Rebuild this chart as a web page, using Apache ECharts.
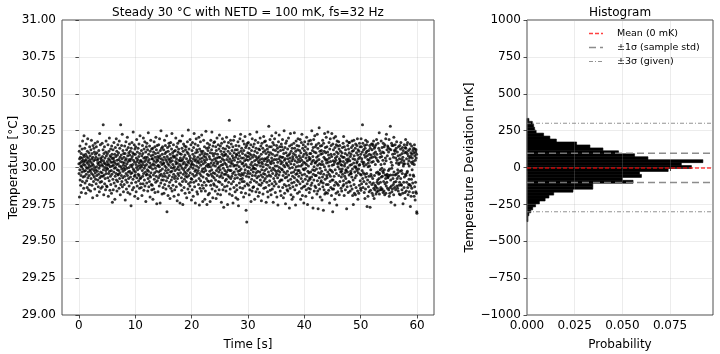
<!DOCTYPE html>
<html>
<head>
<meta charset="utf-8">
<script src="https://cdn.jsdelivr.net/npm/echarts@6/dist/echarts.min.js"></script>
<style>
  html, body { margin: 0; padding: 0; background: #fff; }
  #chart { width: 720px; height: 354px; }
</style>
</head>
<body>
<div id="chart"></div>
<script>
// sample rate [Hz] and nominal temperature [°C]
const FS = 32
const T0 = 30

// temperature deviation in mK, one row per second (32 samples)
const devRows = [
  [25, -40, 110, -200, 60, -15, 145, -85, 30, 70, -120, 10, -55, 95, -170, 40, 5, -30, 125, 65, -95, 180, -10, 50, -65, 20, 85, -140, 35, 215, -25, 75],
  [-60, 130, 15, -105, 45, -20, 90, -175, 55, 160, -45, 0, -90, 75, 30, -135, 110, -5, 195, -70, 40, -30, 65, -150, 20, 100, -55, 5, -115, 140, 50, -15],
  [80, -25, -160, 35, 120, -75, 10, 185, -40, 60, -120, 95, -10, 25, -205, 70, 150, -50, 15, -95, 45, 130, -20, -65, 105, 0, -145, 55, 165, -35, 90, -80],
  [-15, 70, -110, 140, 5, -55, 100, -190, 50, -25, 175, 30, -85, 60, -130, 20, -45, 115, -5, 85, -165, 35, 230, -70, 10, -100, 155, -30, 65, -140, 40, -60],
  [55, -95, 20, -35, 165, -130, 75, 10, -60, 120, 290, -15, 45, -185, 95, -50, 30, 140, -110, 0, 65, -75, 25, -150, 105, -20, 180, -40, 80, -125, 15, -5],
  [-130, 40, 95, -10, -70, 155, 25, -195, 60, -40, 110, 15, -90, 200, -25, 50, -155, 80, 5, -60, 125, -115, 35, 70, -20, -175, 145, -45, 90, 10, -235, 60],
  [35, -80, 120, -150, 15, 65, -30, 170, -105, 45, -5, 90, -215, 30, -60, 135, 0, -125, 75, -40, 195, -85, 20, 110, -160, 50, -15, 85, -95, 155, -50, 25],
  [-45, 100, -20, 55, -140, 180, 10, -75, 130, -35, 70, -185, 40, 290, -115, 5, 85, -55, 150, -10, -95, 60, 225, -130, 35, -70, 115, -25, 15, -165, 95, -5],
  [70, -115, 30, -60, 145, -15, 95, -220, 50, 10, -85, 175, -40, 60, -145, 120, -5, 25, -100, 205, -55, 80, -170, 40, 135, -30, -75, 100, 0, -125, 55, 160],
  [-25, 85, -180, 45, 110, -65, 15, -40, -260, 130, 60, -105, 5, 170, -35, 75, -150, 20, 100, -80, 240, -10, 50, -135, 90, -20, 155, -60, 35, -195, 125, -50],
  [90, -30, 140, -100, 20, -165, 65, 0, 190, -70, 40, -125, 105, -15, 55, -210, 130, -45, 10, -90, 75, 160, -55, 30, -140, 95, -5, 215, -75, 45, -110, 15],
  [-70, 45, -135, 115, 5, 80, -190, 35, -20, 150, -60, 95, -110, 20, 200, -40, 65, -155, 125, -5, -85, 40, 175, -125, 10, 70, -30, 105, -230, 55, -50, 140],
  [20, -105, 165, -45, 70, -15, 120, -160, 40, -75, 235, -25, 90, -130, 5, 55, -95, 145, -55, 30, -200, 110, 0, -65, 185, -35, 80, -115, 15, 125, -150, 60],
  [-120, 60, -10, 130, -215, 85, 25, -50, 105, -145, 45, 175, -80, 15, -35, 140, -170, 70, -5, 95, -100, 205, 35, -60, 120, -25, -245, 55, 150, -90, 10, 75],
  [45, -165, 100, 15, -70, 155, -30, 65, -125, 5, 195, -55, 80, -240, 115, -20, 35, -105, 250, -45, 60, 130, -85, 20, -180, 90, -10, 140, -60, 50, -135, 25],
  [-85, 120, 30, -175, 70, -40, 185, -115, 10, 95, -60, 150, -20, 55, -145, 105, 0, -90, 215, 40, -300, 75, -35, 135, -70, 25, -190, 110, -15, 60, -125, 165],
  [15, -55, 145, -100, 50, -210, 90, 35, -30, 170, -140, 65, 0, -85, 125, -25, 230, -160, 45, -65, 100, 20, -120, 80, -5, 155, -45, 70, -195, 110, 5, -75],
  [-150, 75, -20, 115, -60, 40, 200, -95, 25, -130, 60, 140, -10, 85, -225, 30, -75, 165, -40, 105, 5, -185, 125, -55, 50, -15, 180, -110, 20, 95, -240, 45],
  [65, -35, 180, -120, 10, 90, -70, 45, -155, 130, -5, 215, -95, 55, -250, 25, 110, -45, 160, -15, 70, -135, 35, -80, 145, -30, 85, -175, 0, 120, -60, 20],
  [-95, 140, -40, 60, -205, 15, 105, -65, 175, -20, 40, -145, 95, 255, -110, 30, -55, 125, -10, -170, 80, 50, -125, 190, -35, 65, -100, 5, 155, -75, 20, -220],
  [40, -80, 115, -150, 25, 170, -45, 90, -5, -195, 60, 135, -100, 15, 230, -60, 75, -130, 45, -25, 160, -240, 100, -15, 55, -90, 195, -50, 10, 120, -165, 35],
  [-35, 105, -180, 70, 150, -20, 45, -115, 0, 205, -75, 30, -255, 125, -40, 85, -140, 60, 175, -90, 15, -55, 110, -160, 40, 220, -25, 95, -120, 65, -10, -230],
  [110, -65, 25, -140, 185, -30, 80, -100, 50, 140, -5, -215, 95, 35, -160, 70, -20, 245, -120, 10, -75, 130, 55, -250, 90, -45, 165, -90, 20, 115, -185, 5],
  [-55, 135, -95, 20, 75, -175, 155, -25, 60, -230, 100, 5, -120, 185, -45, 30, -90, 120, -15, 240, -145, 50, -60, 95, -205, 145, 15, -35, 80, -110, 170, -70],
  [30, -120, 60, 175, -40, 95, -160, 10, -85, 140, 45, -210, 115, -20, 65, -130, 200, -55, 25, 90, -180, 35, -5, 155, -95, 70, -30, 125, -150, 5, 220, -65],
  [-100, 70, -15, 145, -185, 40, 110, -55, 15, -235, 165, -35, 90, -115, 60, 195, -70, 20, -150, 130, -5, 80, -270, 50, 105, -45, 175, -130, 30, -20, 85, -90],
  [125, -45, 90, -160, 20, -80, 205, -30, 55, -125, 145, 5, -250, 75, -55, 110, -15, 170, -100, 40, -65, 135, 320, -180, 60, -20, 95, -145, 10, 185, -75, 30],
  [-20, 160, -110, 45, -60, 115, -190, 80, 25, -40, 140, -240, 65, -95, 185, 10, -135, 100, -30, 50, 210, -75, 15, -165, 120, -50, 70, -205, 150, -10, 90, -120],
  [85, -150, 15, 120, -70, 35, -215, 175, -25, 60, -260, 100, -45, 145, 5, -105, 80, -20, 195, -135, 40, -80, 225, -55, 110, -10, -170, 65, 130, -40, 25, -95],
  [-75, 95, -140, 30, 180, -50, 65, -200, 115, 10, -95, 160, -35, 45, -125, 210, -15, 85, -175, 135, 20, -290, 55, -60, 150, -370, 75, -110, 5, 165, -40, 100],
  [50, -25, 170, -120, 75, -65, 130, -185, 0, 95, -150, 225, -40, 60, -100, 20, 155, -230, 85, -15, 115, -80, 35, -160, 195, -55, 70, 10, -135, 140, -30, -5],
  [-130, 85, -5, 160, -90, 45, -215, 110, 20, -55, 185, -10, 75, -165, 130, -35, 55, -100, 240, -70, 15, 100, -145, 65, -25, 170, -195, 40, -60, 125, -115, 30],
  [75, -170, 120, -30, 55, 200, -85, 10, -120, 145, -50, 90, -225, 35, -15, 165, -105, 60, 25, -65, 130, -180, 5, 105, -40, 210, -140, 45, -90, 175, -20, 60],
  [-45, 115, -75, 180, -135, 20, 95, -235, 60, -10, 150, -100, 40, -60, 125, -165, 70, 15, -200, 105, -30, 50, 280, -120, 85, -50, 140, -90, 0, 190, -155, 35],
  [100, -60, 25, -185, 140, -20, 65, 215, -110, 45, -145, 90, -40, 170, -5, -235, 120, 30, -75, 155, -125, 55, -15, 195, -95, 80, 10, -170, 115, -55, 235, -25],
  [-110, 55, 150, -40, -200, 85, 10, 130, -70, 35, -255, 105, -20, 175, -130, 60, -50, 220, 0, -95, 140, -30, 75, -160, 45, 115, -85, 25, -190, 160, -10, 70],
  [140, -85, 35, -15, 190, -135, 70, -55, 120, -205, 15, 95, -30, 250, -115, 50, -175, 5, 135, -70, 60, -245, 165, -40, 100, -125, 30, 180, -65, 20, -150, 80],
  [-25, 125, -160, 60, -90, 10, 200, -50, 85, -120, 40, -275, 145, -5, 95, -140, 65, 230, -80, 25, -185, 110, -35, 155, -105, 45, -215, 130, 0, -60, 75, -130],
  [60, -200, 95, -30, 165, -100, 20, 235, -70, 130, -150, 45, -15, 85, -255, 110, -45, 180, 5, -120, 70, -85, 150, -40, 35, -175, 120, -20, 195, -95, 55, 10],
  [-60, 145, -20, 80, -165, 115, 40, -110, 190, -35, 65, -215, 100, 10, -75, 170, -140, 50, 225, -50, 20, -190, 130, -95, 75, -10, 155, -130, 35, -240, 90, -15],
  [115, -45, 175, -125, 30, -80, 140, -5, -195, 65, 100, -150, 20, 205, -60, 85, -110, 45, -250, 125, -25, 160, -90, 10, -140, 180, -35, 70, -170, 55, -70, 95],
  [-80, 60, -145, 185, -30, 95, -120, 25, 160, -65, 250, -105, 40, -205, 115, -15, 75, -275, 135, -45, 50, 190, -85, 5, -160, 105, -20, 215, -125, 30, -55, 140],
  [35, -135, 100, -55, 155, -10, 70, -180, 45, 225, -90, 15, -160, 130, -280, 80, -35, 165, -115, 55, 270, -70, 25, -145, 110, -5, -200, 145, -40, 90, -100, 20],
  [-90, 115, -25, 150, -220, 40, 95, -65, 185, -130, 20, -105, -290, 165, -45, 70, -150, 110, 5, 230, -180, 60, -80, 135, -15, 100, -170, 50, 205, -115, 30, -55],
  [140, -70, 55, -175, 105, -30, 240, -115, 35, 85, -155, 10, 170, -45, 65, -240, 125, -15, -95, 195, -60, 40, -135, 90, 150, -20, -190, 75, 230, -85, 15, -145],
  [-30, -300, 160, -85, 45, 120, -145, 20, 200, -60, 90, -120, 35, -215, 135, -15, 65, 210, -100, 50, -175, 155, -40, 105, -255, 75, 180, -110, 25, 145, -165, 5],
  [95, -120, 30, 175, -55, 125, -185, 60, -10, 150, -95, 45, 40, 110, -30, 20, -140, 80, -65, -25, -160, 15, 100, -10, 135, -45, 70, -125, 165, 40, -90, 210],
  [-115, 70, -190, 140, 10, -60, 25, -35, 95, -150, 120, -75, -15, -20, 55, -105, -280, 180, 35, -130, 85, -30, 150, 0, 45, -170, 60, 125, -95, 170, -50, 100],
  [170, -100, 45, 15, -160, 75, -40, -25, -125, 90, -40, 135, 20, -65, 180, -145, 110, -10, -190, 150, 60, -85, -250, 115, 30, 185, -115, 80, -175, 5, -30, 55],
  [-70, 130, -185, 160, 5, -135, -5, -55, 100, 30, 150, -20, 40, 195, -160, 85, -215, 120, -35, 60, -10, -175, 110, 15, -120, 165, 20, 70, 140, -90, -45, -140],
  [90, -155, 195, -50, 140, -110, 60, 40, -20, 105, 290, -75, 165, -135, 25, -35, 120, 35, -95, 10, -170, 85, 150, -45, -210, 130, 70, -145, 185, -65, 100, 20],
  [-110, 155, -40, 110, -265, 80, 175, -85, 55, -195, 5, 30, -130, 115, -60, 50, -165, 90, 10, 150, -100, -270, 130, 65, -155, -15, -45, 85, -60, 160, 35, -115],
  [120, -175, 70, 160, -75, 150, -190, 40, -105, 180, -140, 95, -210, 130, -55, 75, -150, 140, -120, 20, 105, -130, 155, -180, 65, -35, 190, -165, 90, -100, -140, 50],
  [-85, -30, 165, -160, 40, -110, 130, -45, -75, 235, -180, -40, 115, -150, 70, -15, -100, 95, -135, 20, 180, -65, -150, 75, -5, 135, -145, -60, 105, -25, 50, -170],
  [165, -35, -95, 100, -160, 140, -15, 25, -185, 155, -110, -50, 65, -75, 195, -175, 45, -125, 225, -55, -100, 120, -45, 80, -140, 145, -70, -65, 135, -20, 105, -150],
  [-55, 190, -195, -10, 125, -175, 60, -135, 280, -50, -85, 120, -235, 35, -125, 165, -5, -165, 150, 15, -145, 90, -50, -75, 150, -115, 70, -185, 205, -30, -100, 115],
  [-135, 95, -255, 155, -50, 115, -150, 65, -95, 130, -45, 30, 175, -125, 50, -75, 105, -140, -15, -35, 80, -160, 140, -60, 20, -120, 30, -180, 60, -100, 150, -25],
  [85, -185, 125, -75, 170, -115, 35, -120, -20, 55, -150, 95, -40, 135, -175, 70, -245, 115, 10, 25, -100, 45, -135, 155, -65, 25, 100, -170, -210, 135, -45, 190],
  [130, -55, 105, -160, 60, -100, 155, -35, 95, -25, 170, -135, 25, -185, 80, 115, -115, 45, -80, 10, -165, 65, -115, 125, -50, 160, -265, 75, -125, 100, -195, 35],
  [-80, 145, -140, 90, -15, 65, 25, -105, 115, -170, 40, -50, 130, -60, 100, -195, 20, 155, -130, 80, 125, -220, 50, -100, 105, -165, 120, 65, -175, 90, -300, -310]
]

// histogram: lower bin edge [mK], bin width, probability per bin
const BIN_W = 20
const histLow = [-367, -347, -327, -307, -287, -267, -247, -227, -207, -187, -167, -147, -127, -107, -87, -67, -47, -27, -7,
  13, 33, 53, 73, 93, 113, 133, 153, 173, 193, 213, 233, 253, 273, 293, 313]
const histProb = [0.0005, 0.0005, 0.001, 0.002, 0.003, 0.0045, 0.0065, 0.0095, 0.0115, 0.014, 0.0241, 0.0345, 0.0345, 0.0556, 0.050, 0.060, 0.059, 0.074, 0.0862,
  0.0809, 0.0922, 0.0634, 0.0564, 0.048, 0.0398, 0.033, 0.026, 0.0154, 0.012, 0.0087, 0.0048, 0.004, 0.0035, 0.0028, 0.001]

// reference lines [mK]
const meanDev = -3
const sampleStd = 99.5
const givenSigma = 100
const PROB_MAX = 0.0975

const tickT = [0, 10, 20, 30, 40, 50, 60]
const tickP = [0, 0.025, 0.05, 0.075]

const FONT = 'DejaVu Sans'
const gridColor = 'rgba(176,176,176,0.3)'

const meanStyle = { color: 'rgba(255,0,0,0.75)', width: 1.5, type: [4, 2] }
const stdStyle = { color: 'rgba(128,128,128,0.9)', width: 1.5, type: [7, 4] }
const sig3Style = { color: 'rgba(128,128,128,0.85)', width: 1.2, type: [4, 2, 1, 2] }

const tempDev = [].concat(...devRows)
const scatterData = tempDev.map((d, i) => [i / FS, T0 + d / 1000])
const histData = histLow.map((lo, i) => [lo, lo + BIN_W, histProb[i]])

function hLine(name, y, style) {
  return {
    name: name,
    type: 'line',
    xAxisIndex: 1,
    yAxisIndex: 1,
    symbol: 'none',
    silent: true,
    data: [[0, y], [PROB_MAX, y]],
    lineStyle: style,
    z: 3
  }
}

// legend drawn by hand: dashed sample + label
function legendRow(y, label, style) {
  return [
    {
      type: 'line', silent: true,
      shape: { x1: 589, y1: y, x2: 603, y2: y },
      style: { stroke: style.color, lineWidth: style.width, lineDash: style.type }
    },
    {
      type: 'text', x: 617, y: y,
      style: { text: label, textVerticalAlign: 'middle', font: '9.5px "DejaVu Sans"', fill: '#000' }
    }
  ]
}

const chart = echarts.init(document.getElementById('chart'), null, { renderer: 'canvas' })

const axisCommon = {
  axisLine: { show: false },
  axisTick: { show: true, length: 3.5, lineStyle: { color: '#222', width: 0.8 } },
  splitLine: { show: true, lineStyle: { color: gridColor, width: 0.8 } },
  nameLocation: 'middle',
  nameMoveOverlap: false,
  nameTextStyle: { color: '#000', fontSize: 12, fontFamily: FONT }
}

const option = {
  animation: false,
  backgroundColor: '#fff',
  textStyle: { fontFamily: FONT },
  grid: [
    { left: 62, right: 286, top: 20, bottom: 39, show: true, borderColor: '#222', borderWidth: 0.8, containLabel: false, outerBoundsMode: 'none' },
    { left: 527, right: 7, top: 20, bottom: 39, show: true, borderColor: '#222', borderWidth: 0.8, containLabel: false, outerBoundsMode: 'none' }
  ],
  graphic: [
    { type: 'text', x: 248, y: 13, style: { text: 'Steady 30 °C with NETD = 100 mK, fs=32 Hz', textAlign: 'center', textVerticalAlign: 'middle', font: '12px "DejaVu Sans"', fill: '#000' } },
    { type: 'text', x: 620, y: 13, style: { text: 'Histogram', textAlign: 'center', textVerticalAlign: 'middle', font: '12px "DejaVu Sans"', fill: '#000' } }
  ].concat(
    legendRow(33.5, 'Mean (0 mK)', meanStyle),
    legendRow(47.5, '±1σ (sample std)', stdStyle),
    legendRow(61.5, '±3σ (given)', sig3Style)
  ),
  xAxis: [
    Object.assign({}, axisCommon, {
      gridIndex: 0, type: 'value', min: -3, max: 63,
      name: 'Time [s]', nameGap: 24,
      axisTick: Object.assign({}, axisCommon.axisTick, { customValues: tickT }),
      axisLabel: { customValues: tickT, margin: 5, color: '#000', fontSize: 12, fontFamily: FONT }
    }),
    Object.assign({}, axisCommon, {
      gridIndex: 1, type: 'value', min: 0, max: PROB_MAX,
      name: 'Probability', nameGap: 24,
      axisTick: Object.assign({}, axisCommon.axisTick, { customValues: tickP }),
      axisLabel: { customValues: tickP, margin: 5, color: '#000', fontSize: 12, fontFamily: FONT, formatter: v => v.toFixed(3) }
    })
  ],
  yAxis: [
    Object.assign({}, axisCommon, {
      gridIndex: 0, type: 'value', min: 29, max: 31, interval: 0.25,
      name: 'Temperature [°C]', nameGap: 42,
      axisLabel: { margin: 6, color: '#000', fontSize: 12, fontFamily: FONT, formatter: v => v.toFixed(2) }
    }),
    Object.assign({}, axisCommon, {
      gridIndex: 1, type: 'value', min: -1000, max: 1000, interval: 250,
      name: 'Temperature Deviation [mK]', nameGap: 51,
      axisLabel: { margin: 6, color: '#000', fontSize: 12, fontFamily: FONT, formatter: v => (v < 0 ? '\u2212' + (-v) : String(v)) }
    })
  ],
  series: [
    {
      type: 'scatter',
      xAxisIndex: 0,
      yAxisIndex: 0,
      symbol: 'circle',
      symbolSize: 3,
      itemStyle: { color: '#000' },
      silent: true,
      data: scatterData
    },
    {
      type: 'custom',
      xAxisIndex: 1,
      yAxisIndex: 1,
      silent: true,
      z: -1,
      encode: { x: 2, y: [0, 1] },
      renderItem: function (params, api) {
        const a = api.coord([0, api.value(1)])
        const b = api.coord([api.value(2), api.value(0)])
        return {
          type: 'rect',
          shape: { x: a[0], y: a[1], width: b[0] - a[0], height: b[1] - a[1] },
          style: { fill: '#000', stroke: '#000', lineWidth: 0.6 }
        }
      },
      data: histData
    },
    hLine('±3σ (given)', 3 * givenSigma, sig3Style),
    hLine('±3σ (given)', -3 * givenSigma, sig3Style),
    hLine('±1σ (sample std)', meanDev + sampleStd, stdStyle),
    hLine('±1σ (sample std)', meanDev - sampleStd, stdStyle),
    hLine('Mean (0 mK)', meanDev, meanStyle)
  ]
}

chart.setOption(option)
</script>
</body>
</html>
